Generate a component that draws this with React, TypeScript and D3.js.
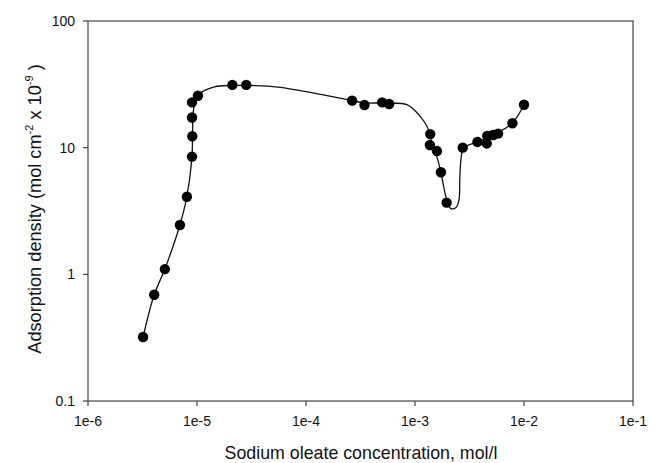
import React from 'react';
import * as d3 from 'd3';

// measured points
const concX = [3.2e-6, 4.05e-6, 5.07e-6, 6.97e-6, 8.07e-6, 9.0e-6, 9.05e-6, 9.0e-6, 9.0e-6, 1.02e-5,
  2.11e-5, 2.83e-5, 2.65e-4, 3.44e-4, 5.0e-4, 5.8e-4, 1.38e-3, 1.37e-3, 1.59e-3, 1.73e-3, 1.95e-3,
  2.74e-3, 3.74e-3, 4.55e-3, 4.6e-3, 5.2e-3, 5.78e-3, 7.83e-3, 1.0e-2];
const density = [0.32, 0.69, 1.10, 2.45, 4.1, 8.5, 12.3, 17.3, 22.8, 25.7,
  31.3, 31.3, 23.5, 21.7, 22.8, 22.1, 12.8, 10.5, 9.4, 6.4, 3.68,
  10.0, 11.1, 10.8, 12.4, 12.6, 12.9, 15.6, 21.8];

// fitted curve
const fitX = [3.2e-6, 4.05e-6, 5.07e-6, 6.97e-6, 8.07e-6, 9.0e-6, 9.1e-6, 9.3e-6, 1.02e-5, 1.45e-5,
  2.1e-5, 2.8e-5, 5.5e-5, 1.45e-4, 2.65e-4, 3.4e-4, 5.0e-4, 8.5e-4, 1.12e-3, 1.29e-3,
  1.45e-3, 1.62e-3, 1.75e-3, 1.95e-3, 2.12e-3, 2.36e-3, 2.53e-3, 2.58e-3, 2.66e-3, 2.8e-3,
  3.74e-3, 4.6e-3, 5.5e-3, 7.8e-3, 1.0e-2];
const fitY = [0.32, 0.69, 1.10, 2.45, 4.1, 8.5, 12.5, 20, 26, 30.2,
  31, 31, 30.1, 26.1, 23.5, 22.6, 22.5, 21.8, 17.6, 14.7,
  10.5, 8.0, 6.0, 3.9, 3.32, 3.35, 3.86, 5.9, 8.5, 10.0,
  11.1, 12.0, 12.9, 15.6, 21.8];

const xTicks = [1e-6, 1e-5, 1e-4, 1e-3, 1e-2, 1e-1];
const xTickLabels = ['1e-6', '1e-5', '1e-4', '1e-3', '1e-2', '1e-1'];
const yTicks = [0.1, 1, 10, 100];
const yTickLabels = ['0.1', '1', '10', '100'];

const W = 658;
const H = 463;
const left = 88, right = 633, top = 21, bottom = 401;
const font = '"Liberation Sans", Arial, sans-serif';

export default function App() {
  const x = d3.scaleLog().domain([1e-6, 1e-1]).range([left, right]);
  const y = d3.scaleLog().domain([0.1, 100]).range([bottom, top]);

  const line = d3.line<number>()
    .x((d, i) => x(fitX[i]))
    .y((d, i) => y(fitY[i]))
    .curve(d3.curveCatmullRom.alpha(0.5));

  const axisColor = '#444';

  return (
    <svg width={W} height={H} style={{ position: 'absolute', left: 0, top: 0, background: '#fff' }}
      fontFamily={font}>
      <rect x={0} y={0} width={W} height={H} fill="#fff" />
      <path d={line(fitY) || ''} fill="none" stroke="#111" strokeWidth={1.3} />
      {concX.map((c, i) => (
        <circle key={i} cx={x(c)} cy={y(density[i])} r={5.2} fill="#000" />
      ))}
      {/* frame */}
      <rect x={left} y={top} width={right - left} height={bottom - top} fill="none" stroke={axisColor} strokeWidth={1.2} />
      {xTicks.map((t, i) => (
        <g key={t}>
          <line x1={x(t)} x2={x(t)} y1={bottom} y2={bottom + 5} stroke={axisColor} strokeWidth={1.2} />
          <text x={x(t)} y={426} textAnchor="middle" fontSize={14} fill="#111">{xTickLabels[i]}</text>
        </g>
      ))}
      {yTicks.map((t, i) => (
        <g key={t}>
          <line x1={left - 5} x2={left} y1={y(t)} y2={y(t)} stroke={axisColor} strokeWidth={1.2} />
          <text x={left - 13} y={y(t) + 5} textAnchor="end" fontSize={14} fill="#111">{yTickLabels[i]}</text>
        </g>
      ))}
      <text x={361} y={459} textAnchor="middle" fontSize={17.8} fill="#111">Sodium oleate concentration, mol/l</text>
      <text transform="translate(41,209) rotate(-90)" textAnchor="middle" fontSize={18.2} fill="#111">
        Adsorption density (mol cm<tspan fontSize={11} dy={-8}>-2</tspan><tspan dy={8}> x 10</tspan>
        <tspan fontSize={11} dy={-8}>-9</tspan><tspan dy={8}> )</tspan>
      </text>
    </svg>
  );
}
